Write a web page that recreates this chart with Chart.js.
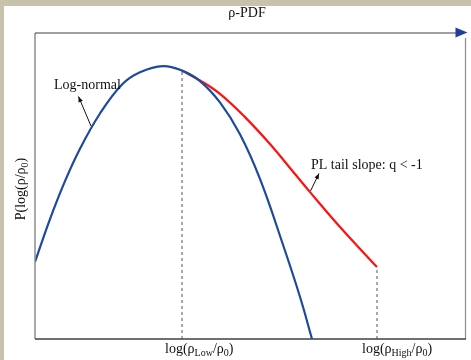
<!DOCTYPE html>
<html>
<head>
<meta charset="utf-8">
<script src="https://cdn.jsdelivr.net/npm/chart.js@4/dist/chart.umd.min.js"></script>
<style>
html,body{margin:0;padding:0;background:#c8c1ab;}
canvas{display:block;}
</style>
</head>
<body>
<canvas id="c" width="471" height="360"></canvas>
<script>
// ---- data (x = log(rho/rho0) in arbitrary units, y = relative P) ----
const logNormalX = [-3.000,-2.652,-2.304,-1.956,-1.492,-0.981,-0.564,-0.030,0.411,0.828,1.292,1.756,2.220,2.754,3.148,3.427];
const logNormalY = [0.252,0.392,0.516,0.622,0.737,0.832,0.872,0.892,0.877,0.843,0.773,0.669,0.523,0.308,0.138,0.000];
const plTailX = [0.411,0.828,1.292,1.872,2.452,3.032,3.381,4.077,4.935];
const plTailY = [0.877,0.845,0.801,0.725,0.637,0.539,0.480,0.366,0.235];
const rhoLow = 0.411;
const rhoHigh = 4.935;
const xRange = [-3, 7];
const yRange = [0, 1];
const titleText = 'ρ-PDF';
const lowLabel = [['log(ρ',0],['Low',1],['/ρ',0],['0',1],[')',0]];
const highLabel = [['log(ρ',0],['High',1],['/ρ',0],['0',1],[')',0]];
const yLabelParts = [['P(log(ρ/ρ',0],['0',1],[')',0]];
const annoLogNormal = 'Log-normal';
const annoPL = 'PL tail slope: q < -1';

const zip = (xs, ys) => xs.map((x,i)=>({x, y: ys[i]}));
const FONT = '"Liberation Serif", "DejaVu Serif", serif';

function richWidth(ctx, parts, size, sub){
  let w=0; for(const [t,s] of parts){ ctx.font = (s?sub:size)+'px '+FONT; w+=ctx.measureText(t).width; } return w;
}
function drawRich(ctx, parts, x, y, size, sub, off){
  let cx=x;
  for(const [t,s] of parts){
    ctx.font = (s?sub:size)+'px '+FONT;
    ctx.fillText(t, cx, s? y+off : y);
    cx += ctx.measureText(t).width;
  }
}
function arrow(ctx, x1,y1,x2,y2){
  ctx.beginPath(); ctx.moveTo(x1,y1); ctx.lineTo(x2,y2); ctx.stroke();
  const a=Math.atan2(y2-y1,x2-x1), L=6, w=0.4;
  ctx.beginPath(); ctx.moveTo(x2,y2);
  ctx.lineTo(x2-L*Math.cos(a-w), y2-L*Math.sin(a-w));
  ctx.lineTo(x2-L*Math.cos(a+w), y2-L*Math.sin(a+w));
  ctx.closePath(); ctx.fill();
}

const decor = {
  id:'decor',
  beforeDraw(chart){
    const ctx=chart.ctx;
    ctx.save();
    ctx.fillStyle='#c8c1ab'; ctx.fillRect(0,0,chart.width,chart.height);
    ctx.fillStyle='#ffffff'; ctx.fillRect(4,6,chart.width-4,chart.height-6);
    ctx.restore();
  },
  afterDraw(chart){
    const ctx=chart.ctx, a=chart.chartArea, xs=chart.scales.x;
    ctx.save();
    // frame
    ctx.lineWidth=1.5; ctx.strokeStyle='#8c8c8c';
    ctx.beginPath(); ctx.moveTo(a.left,a.top); ctx.lineTo(a.left,a.bottom); ctx.stroke();
    ctx.lineWidth=1.2; ctx.strokeStyle='#8c8c8c';
    ctx.beginPath(); ctx.moveTo(a.right-0.5,a.top+5); ctx.lineTo(a.right-0.5,a.bottom); ctx.stroke();
    ctx.lineWidth=1.5; ctx.strokeStyle='#404040';
    ctx.beginPath(); ctx.moveTo(a.left,a.bottom); ctx.lineTo(a.right,a.bottom); ctx.stroke();
    ctx.lineWidth=1.2;
    ctx.beginPath(); ctx.moveTo(a.left,a.top); ctx.lineTo(a.right-10,a.top); ctx.stroke();
    ctx.fillStyle='#1f3f99';
    ctx.beginPath(); ctx.moveTo(a.right+1.5,a.top-0.5); ctx.lineTo(a.right-10.5,a.top-5.5); ctx.lineTo(a.right-10.5,a.top+4.5); ctx.closePath(); ctx.fill();
    // texts
    ctx.fillStyle='#111'; ctx.textBaseline='alphabetic'; ctx.textAlign='left';
    ctx.font='14px '+FONT;
    const tw=ctx.measureText(titleText).width;
    ctx.fillText(titleText, 247-tw/2, 17);
    const pl = xs.getPixelForValue(rhoLow), ph = xs.getPixelForValue(rhoHigh);
    drawRich(ctx, lowLabel, pl-17, 353, 14, 10, 3);
    drawRich(ctx, highLabel, ph-15, 353, 14, 10, 3);
    // y label
    ctx.save();
    ctx.translate(25, 189); ctx.rotate(-Math.PI/2);
    const yw = richWidth(ctx, yLabelParts, 14, 10);
    drawRich(ctx, yLabelParts, -yw/2, 0, 14, 10, 3);
    ctx.restore();
    // annotations
    ctx.font='14px '+FONT;
    ctx.fillText(annoLogNormal, 54, 89);
    ctx.fillText(annoPL, 311, 169);
    ctx.strokeStyle='#111'; ctx.fillStyle='#111'; ctx.lineWidth=1;
    arrow(ctx, 91,126, 78.5,96.5);
    arrow(ctx, 310.5,191, 319,173.5);
    ctx.restore();
  }
};

const dashStyle = {borderColor:'#555', borderWidth:1, borderDash:[3,3], pointRadius:0, showLine:true, fill:false, tension:0};
const lastY = (xs, ys, x) => ys[xs.indexOf(x)];

new Chart(document.getElementById('c'), {
  type:'scatter',
  data:{datasets:[
    Object.assign({label:'low', data:[{x:rhoLow,y:0},{x:rhoLow,y:lastY(plTailX,plTailY,rhoLow)}]}, dashStyle),
    Object.assign({label:'high', data:[{x:rhoHigh,y:0},{x:rhoHigh,y:lastY(plTailX,plTailY,rhoHigh)}]}, dashStyle),
    {label:'Log-normal', data:zip(logNormalX,logNormalY), borderColor:'#1d4a9e', borderWidth:2.2, pointRadius:0, showLine:true, tension:0.4, fill:false},
    {label:'PL tail', data:zip(plTailX,plTailY), borderColor:'#ff1010', borderWidth:2.2, pointRadius:0, showLine:true, tension:0.4, fill:false}
  ]},
  options:{
    responsive:false, animation:false, devicePixelRatio:1,
    layout:{padding:{left:35, top:33, right:5, bottom:21}},
    plugins:{legend:{display:false}, tooltip:{enabled:false}},
    scales:{
      x:{type:'linear', display:false, min:xRange[0], max:xRange[1]},
      y:{type:'linear', display:false, min:yRange[0], max:yRange[1]}
    }
  },
  plugins:[decor]
});
</script>
</body>
</html>
